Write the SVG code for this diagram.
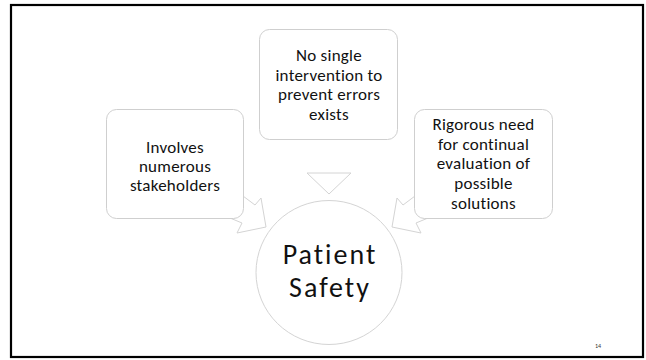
<svg xmlns="http://www.w3.org/2000/svg" width="646" height="360" viewBox="0 0 646 360">
  <style>
    .frame { fill: #ffffff; stroke: #000000; stroke-width: 2.2; }
    .box { fill: #ffffff; stroke: #cfcfcf; stroke-width: 1; }
    .hub { fill: #ffffff; stroke: #d4d4d4; stroke-width: 1; }
    .arrow { fill: #ffffff; stroke: #d4d4d4; stroke-width: 1; stroke-linejoin: miter; }
    .label { font-family: Calibri, Carlito, Lato, "Liberation Sans", sans-serif; font-size: 17px; letter-spacing: 0.25px; fill: #111111; text-anchor: middle; }
    .title { font-family: Calibri, Carlito, Lato, "Liberation Sans", sans-serif; font-size: 28px; letter-spacing: 2px; fill: #111111; text-anchor: middle; }
    .pageno { font-family: Calibri, Carlito, Lato, "Liberation Sans", sans-serif; font-size: 6px; fill: #333333; }
  </style>

  <rect x="0" y="0" width="646" height="360" fill="#ffffff"/>
  <rect class="frame" x="11" y="5" width="632" height="352"/>

  <!-- arrowheads converging on the hub -->
  <g id="connectors">
    <polyline class="arrow" points="243,196 255,205 261,198 266,227 237,233 242,223 230,218"/>
    <polygon class="arrow" points="307,173 351,173 329,194"/>
    <polyline class="arrow" points="415,196 403,205 397,198 392,227 421,233 416,223 428,218"/>
  </g>

  <g id="stakeholders">
    <rect class="box" x="106.5" y="109.5" width="137" height="109" rx="10"/>
    <text class="label" x="175" y="153">Involves</text>
    <text class="label" x="175" y="172">numerous</text>
    <text class="label" x="175" y="191">stakeholders</text>
  </g>

  <g id="no-single-intervention">
    <rect class="box" x="259.5" y="29.5" width="138" height="110" rx="10"/>
    <text class="label" x="329" y="61">No single</text>
    <text class="label" x="329" y="80.5">intervention to</text>
    <text class="label" x="329" y="100">prevent errors</text>
    <text class="label" x="329" y="119.5">exists</text>
  </g>

  <g id="continual-evaluation">
    <rect class="box" x="414.5" y="109.5" width="138" height="109" rx="10"/>
    <text class="label" x="483.5" y="130">Rigorous need</text>
    <text class="label" x="483.5" y="149.7">for continual</text>
    <text class="label" x="483.5" y="169.4">evaluation of</text>
    <text class="label" x="483.5" y="189">possible</text>
    <text class="label" x="483.5" y="208.8">solutions</text>
  </g>

  <g id="patient-safety">
    <ellipse class="hub" cx="329" cy="272.5" rx="73" ry="72"/>
    <text class="title"><tspan x="330" y="263.8">Patient</tspan><tspan x="330" y="296.8">Safety</tspan></text>
  </g>

  <text class="pageno" x="595" y="348">14</text>
</svg>
